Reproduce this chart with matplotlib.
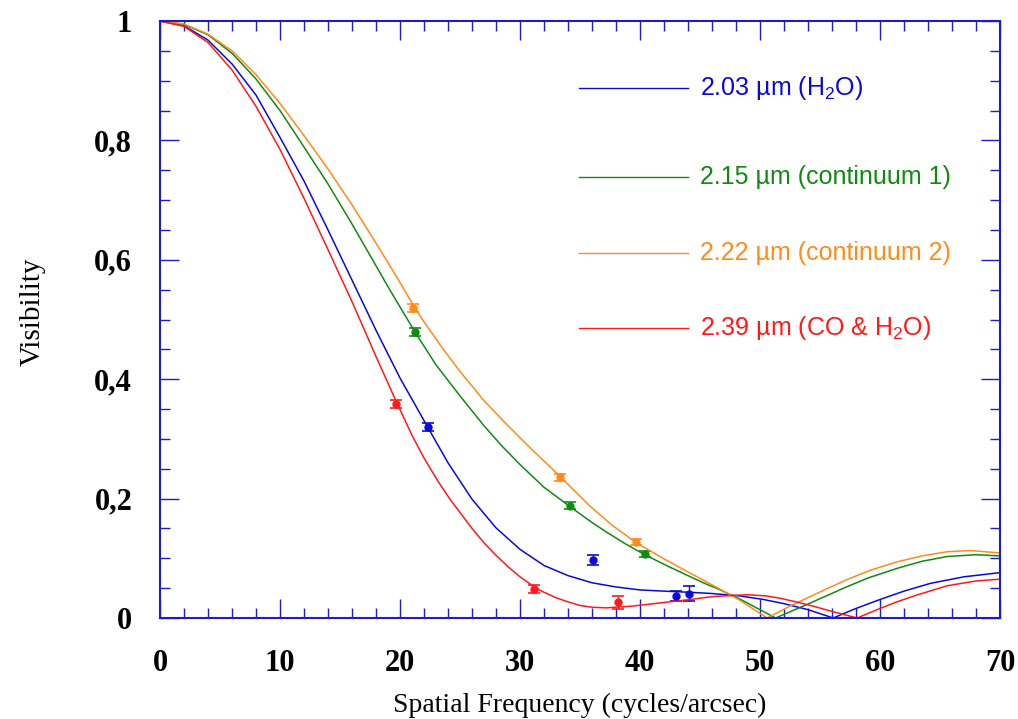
import matplotlib
matplotlib.use("Agg")
import matplotlib.pyplot as plt
import numpy as np

# model curves (spatial frequency, visibility)
blue_x = [0, 2, 4, 6, 8, 10, 12, 14, 16, 18, 20, 22.3, 24, 26, 28, 30, 32, 34, 36, 38, 40,
          42, 44.2, 46, 48.3, 50.3, 52, 54, 56.1, 58, 60, 62, 64.2, 67, 70]
blue_y = [1, 0.992, 0.968, 0.928, 0.876, 0.805, 0.732, 0.650, 0.566, 0.482, 0.402, 0.320,
          0.260, 0.199, 0.151, 0.115, 0.088, 0.071, 0.059, 0.052, 0.047, 0.045, 0.043, 0.041,
          0.037, 0.031, 0.024, 0.014, 0.0, 0.016, 0.031, 0.045, 0.058, 0.069, 0.076]

green_x = [0, 2, 4, 6, 8, 10, 12, 14, 16, 17.2, 19.2, 21.25, 23, 25, 27, 28.5, 30, 32, 34.2,
           36, 37.2, 38.8, 40.4, 42.3, 44.2, 45.5, 46.7, 48.3, 49.8, 51.3, 52.8, 54.4, 57.2,
           59, 61.4, 63.5, 65.6, 68, 70]
green_y = [1, 0.994, 0.977, 0.946, 0.903, 0.850, 0.789, 0.727, 0.660, 0.618, 0.548, 0.479,
           0.424, 0.372, 0.322, 0.288, 0.257, 0.219, 0.186, 0.160, 0.144, 0.124, 0.106, 0.087,
           0.069, 0.057, 0.047, 0.032, 0.016, 0.0, 0.013, 0.027, 0.052, 0.067, 0.083, 0.095,
           0.103, 0.106, 0.104]

orange_x = [0, 2, 4, 6, 8, 10, 12, 14, 16, 18, 20, 21.1, 22, 23.5, 25, 27, 29, 31, 33.3,
            35.8, 37.7, 39.7, 42, 44.2, 46.7, 48.3, 50.6, 52.5, 54.4, 57.2, 59.2, 61.4, 63.5,
            65.6, 67.5, 70]
orange_y = [1, 0.995, 0.978, 0.950, 0.910, 0.862, 0.808, 0.752, 0.692, 0.628, 0.562, 0.524,
            0.496, 0.453, 0.413, 0.364, 0.322, 0.282, 0.238, 0.188, 0.155, 0.126, 0.099, 0.075,
            0.048, 0.030, 0.0, 0.020, 0.038, 0.064, 0.080, 0.094, 0.104, 0.111, 0.113, 0.109]

red_x = [0, 2, 4, 6, 8, 10, 12, 14, 16, 18, 19.7, 21, 22, 23.2, 24.2, 26, 27, 28, 29, 30,
         31.2, 32, 33, 34, 35, 36, 37.2, 39.4, 42, 44.2, 46.1, 48.9, 50.5, 51.7, 53, 54.4,
         56, 58.1, 60, 61.4, 63, 65.6, 68, 70]
red_y = [1, 0.991, 0.964, 0.918, 0.857, 0.785, 0.703, 0.617, 0.530, 0.438, 0.362, 0.306,
         0.268, 0.228, 0.198, 0.150, 0.126, 0.105, 0.086, 0.069, 0.052, 0.043, 0.034, 0.027,
         0.021, 0.018, 0.017, 0.020, 0.026, 0.031, 0.036, 0.039, 0.037, 0.033, 0.027, 0.020,
         0.011, 0.0, 0.016, 0.027, 0.038, 0.054, 0.062, 0.065]

# measured visibilities
blue_obs_x = [22.3, 36.1, 43.0, 44.1]
blue_obs_y = [0.320, 0.097, 0.037, 0.041]
blue_obs_err = [0.007, 0.008, 0.009, 0.012]

green_obs_x = [21.25, 34.2, 40.4]
green_obs_y = [0.479, 0.188, 0.107]
green_obs_err = [0.006, 0.006, 0.005]

orange_obs_x = [21.1, 33.3, 39.7]
orange_obs_y = [0.519, 0.236, 0.127]
orange_obs_err = [0.007, 0.006, 0.005]

red_obs_x = [19.7, 31.2, 38.2]
red_obs_y = [0.358, 0.049, 0.026]
red_obs_err = [0.007, 0.007, 0.011]

labels = ["2.03 µm (H$\\mathregular{_2}$O)", "2.15 µm (continuum 1)",
          "2.22 µm (continuum 2)", "2.39 µm (CO & H$\\mathregular{_2}$O)"]
colors = ["#0a0ad8", "#118a11", "#ff8c1a", "#ff1a1a"]

xticks = [0, 10, 20, 30, 40, 50, 60, 70]
yticks = [0, 0.2, 0.4, 0.6, 0.8, 1.0]
ytick_labels = ["0", "0,2", "0,4", "0,6", "0,8", "1"]

axcol = "#1c1cc8"

fig = plt.figure(figsize=(10.18, 7.19), dpi=100)
ax = fig.add_axes([160 / 1018, 101 / 719, 840 / 1018, 597 / 719])

curves = [(blue_x, blue_y), (green_x, green_y), (orange_x, orange_y), (red_x, red_y)]
obs = [(blue_obs_x, blue_obs_y, blue_obs_err), (green_obs_x, green_obs_y, green_obs_err),
       (orange_obs_x, orange_obs_y, orange_obs_err), (red_obs_x, red_obs_y, red_obs_err)]

for (cx, cy), (ox, oy, oe), c in zip(curves, obs, colors):
    ax.plot(cx, cy, color=c, lw=1.1)
    ax.errorbar(ox, oy, yerr=oe, fmt='o', ms=5, color=c, ecolor=c,
                elinewidth=1, capsize=4.5, capthick=1.2)

# legend drawn by hand
leg_y = [0.887, 0.739, 0.612, 0.485]
for yy, lab, c in zip(leg_y, labels, colors):
    ax.plot([0.499, 0.6286], [yy, yy], color=c, lw=1, transform=ax.transAxes)
    ax.text(0.643, yy, lab, color=c, fontsize=18, family="Liberation Sans",
            va="center", ha="left", transform=ax.transAxes)

ax.set_xlim(0, 70)
ax.set_ylim(0, 1)
ax.set_xticks(xticks)
ax.set_xticks(np.arange(0, 71, 2), minor=True)
ax.set_yticks(yticks)
ax.set_yticklabels(ytick_labels)
ax.set_yticks(np.arange(0, 1.001, 0.05), minor=True)

ax.tick_params(which="both", direction="in", top=True, right=True, color=axcol, width=1)
ax.tick_params(which="major", length=14)
ax.tick_params(which="minor", length=7.2)
ax.tick_params(axis="x", which="major", pad=22)
ax.tick_params(axis="y", which="major", pad=20)
for lab in ax.get_xticklabels() + ax.get_yticklabels():
    lab.set_family("Liberation Serif")
    lab.set_fontweight("bold")
    lab.set_fontsize(22)

for sp in ax.spines.values():
    sp.set_color(axcol)
    sp.set_linewidth(1.5)

ax.set_xlabel("Spatial Frequency (cycles/arcsec)", family="Liberation Serif",
              fontsize=20, va="center")
ax.xaxis.set_label_coords(0.5, -0.146)
ax.set_ylabel("Visibility", family="Liberation Serif", fontsize=21, va="center")
ax.yaxis.set_label_coords(-0.152, 0.513)

fig.savefig("out.png", dpi=100)
